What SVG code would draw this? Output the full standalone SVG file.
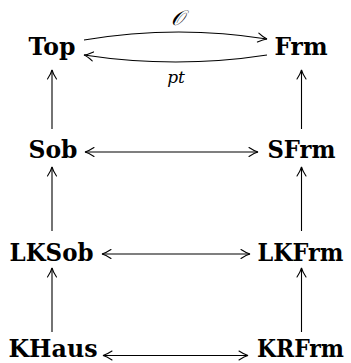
<svg xmlns="http://www.w3.org/2000/svg" width="351" height="363" viewBox="0 0 351 363">
<style>
.n{font-family:"DejaVu Serif","Liberation Serif",serif;font-weight:bold;font-size:24px;fill:#000;text-anchor:middle}
.l{font-family:"DejaVu Serif","Liberation Serif",serif;font-style:italic;fill:#000;text-anchor:middle}
.e{fill:none;stroke:#000;stroke-width:1.1}
</style>
<defs>
<marker id="ah" markerUnits="userSpaceOnUse" markerWidth="12" markerHeight="12" viewBox="-10 -6 12 12" refX="0" refY="0" orient="auto-start-reverse">
<path d="M-9,-4.5 Q-3.5,-0.9 0,0 Q-3.5,0.9 -9,4.5" fill="none" stroke="#000" stroke-width="1.1" stroke-linecap="round"/>
</marker>
</defs>
<g id="Top"><text class="n" x="52" y="55" textLength="47" lengthAdjust="spacingAndGlyphs">Top</text></g>
<g id="Frm"><text class="n" x="301" y="55" textLength="53" lengthAdjust="spacingAndGlyphs">Frm</text></g>
<g id="Sob"><text class="n" x="53" y="158" textLength="49" lengthAdjust="spacingAndGlyphs">Sob</text></g>
<g id="SFrm"><text class="n" x="301.5" y="158" textLength="68" lengthAdjust="spacingAndGlyphs">SFrm</text></g>
<g id="LKSob"><text class="n" x="51.5" y="261" textLength="84" lengthAdjust="spacingAndGlyphs">LKSob</text></g>
<g id="LKFrm"><text class="n" x="300.5" y="261" textLength="86" lengthAdjust="spacingAndGlyphs">LKFrm</text></g>
<g id="KHaus"><text class="n" x="53" y="357" textLength="89" lengthAdjust="spacingAndGlyphs">KHaus</text></g>
<g id="KRFrm"><text class="n" x="300.5" y="356.5" textLength="87" lengthAdjust="spacingAndGlyphs">KRFrm</text></g>
<g id="connectors">
<path class="e" d="M84,40 Q176,24.5 267,39" marker-end="url(#ah)"/>
<path class="e" d="M267,55 Q176,69 84,55" marker-end="url(#ah)"/>
<text class="l" x="177" y="25" font-size="21">𝒪</text>
<text class="l" x="176" y="83" font-size="17">pt</text>
<path class="e" d="M52,129 V70" marker-end="url(#ah)"/>
<path class="e" d="M301.5,129 V70" marker-end="url(#ah)"/>
<path class="e" d="M52,231 V167" marker-end="url(#ah)"/>
<path class="e" d="M301.5,231 V167" marker-end="url(#ah)"/>
<path class="e" d="M52,332 V268" marker-end="url(#ah)"/>
<path class="e" d="M301.5,332 V268" marker-end="url(#ah)"/>
<path class="e" d="M85,152 H258" marker-start="url(#ah)" marker-end="url(#ah)"/>
<path class="e" d="M102,254 H250" marker-start="url(#ah)" marker-end="url(#ah)"/>
<path class="e" d="M103,355.5 H248" marker-start="url(#ah)" marker-end="url(#ah)"/>
</g>
</svg>
